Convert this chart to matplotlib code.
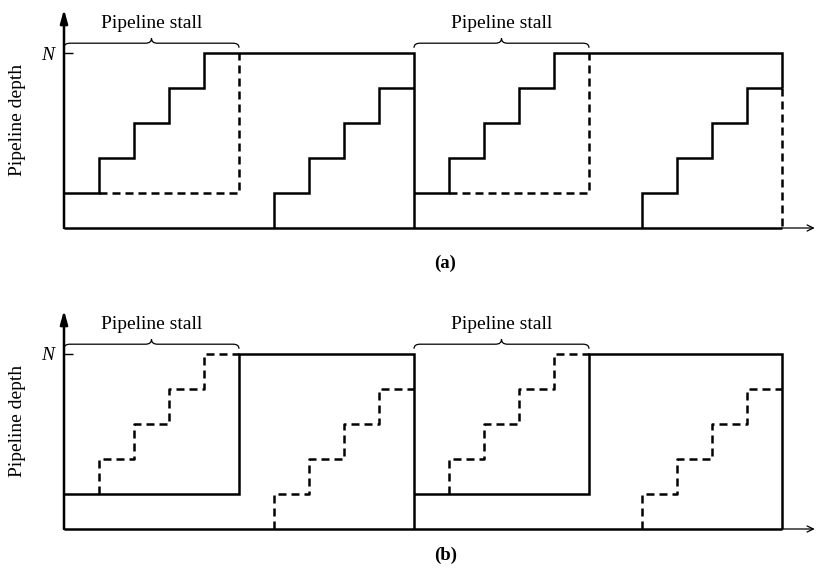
import matplotlib.pyplot as plt
from matplotlib.path import Path
from matplotlib.patches import PathPatch

plt.rcParams['font.family'] = ['Liberation Serif', 'DejaVu Serif']

N_LEVEL = 5
T_END = 20.5
T_ARROW = 21.45
Y_ARROW = 6.25

# panel (a): pipeline fills step by step, then is flushed (dashed)
a_solid = [
    ([0, 1, 2, 3, 4, 10], [1, 2, 3, 4, 5, 0]),
    ([6, 6, 7, 8, 9, 10], [0, 1, 2, 3, 4, 4]),
    ([10, 11, 12, 13, 14, T_END], [1, 2, 3, 4, 5, 4]),
    ([16.5, 16.5, 17.5, 18.5, 19.5, T_END], [0, 1, 2, 3, 4, 4]),
]
a_dashed = [
    ([1, 5], [1, 5]),
    ([11, 15], [1, 5]),
    ([T_END, T_END], [4, 0]),
]

# panel (b)
b_solid = [
    ([0, 5, 10], [1, 5, 0]),
    ([10, 15, T_END], [1, 5, 0]),
]
b_dashed = [
    ([1, 1, 2, 3, 4, 5], [1, 2, 3, 4, 5, 5]),
    ([6, 6, 7, 8, 9, 10], [0, 1, 2, 3, 4, 4]),
    ([11, 11, 12, 13, 14, 15], [1, 2, 3, 4, 5, 5]),
    ([16.5, 16.5, 17.5, 18.5, 19.5, T_END], [0, 1, 2, 3, 4, 4]),
]

stalls = [(0, 5), (10, 15)]

# layout in pixels (816 x 573 figure)
W, H = 816, 573
PX = 35.0
X0 = 64


def make_axes(fig, top_px, bot_px, base_px):
    ax = fig.add_axes([0, 1 - bot_px / H, 1, (bot_px - top_px) / H])
    ax.set_xlim(-X0 / PX, (W - X0) / PX)
    ax.set_ylim((base_px - bot_px) / PX, (base_px - top_px) / PX)
    for s in ax.spines.values():
        s.set_visible(False)
    ax.spines['left'].set_position(('data', 0))
    ax.set_xticks([])
    ax.set_yticks([N_LEVEL])
    ax.set_yticklabels(['N'])
    ax.tick_params(axis='y', direction='in', length=6.5, width=1.0, pad=7,
                   labelsize=14)
    for lab in ax.get_yticklabels():
        lab.set_fontstyle('italic')
    return ax


def brace(ax, t0, t1, y, h=0.13, tip=0.14, r=0.17):
    tm = (t0 + t1) / 2
    verts = [(t0, y - h), (t0, y), (t0 + r, y), (tm - r, y), (tm, y),
             (tm, y + tip), (tm, y), (tm + r, y), (t1 - r, y), (t1, y),
             (t1, y - h)]
    codes = [Path.MOVETO, Path.CURVE3, Path.CURVE3, Path.LINETO,
             Path.CURVE3, Path.CURVE3, Path.CURVE3, Path.CURVE3,
             Path.LINETO, Path.CURVE3, Path.CURVE3]
    ax.add_patch(PathPatch(Path(verts, codes), fc='none', ec='k', lw=0.9))
    ax.text(tm, 5.72, 'Pipeline stall', ha='center', va='baseline', fontsize=14)


def draw_panel(ax, solid, dashed, tag, tag_y):
    line = dict(color='k', lw=1.8, solid_joinstyle='miter',
                solid_capstyle='butt', dash_capstyle='butt')
    # axes
    ax.plot([0, T_END], [0, 0], **line)
    ax.annotate('', xy=(T_ARROW, 0), xytext=(T_END, 0),
                arrowprops=dict(arrowstyle='->,head_length=0.45,head_width=0.22',
                                lw=0.9, color='k', shrinkA=0, shrinkB=0))
    ax.annotate('', xy=(0, Y_ARROW), xytext=(0, 0),
                arrowprops=dict(arrowstyle='-|>,head_length=0.8,head_width=0.22',
                                lw=1.8, color='k', shrinkA=0, shrinkB=0,
                                mutation_scale=10))
    for t, d in solid:
        ax.step(t, d, where='post', **line)
    for t, d in dashed:
        ax.step(t, d, where='post', linestyle=(0, (3.2, 2.0)), **line)
    for t0, t1 in stalls:
        brace(ax, t0, t1, 5.28)
    ax.text(-1.34, 3.1, 'Pipeline depth', rotation=90, ha='center',
            va='center', fontsize=14)
    ax.text(10.9, tag_y, tag, ha='center', va='center', fontsize=13.5,
            fontweight='bold')


fig = plt.figure(figsize=(W / 100, H / 100), dpi=100)
ax_a = make_axes(fig, 0, 283, 228)
ax_b = make_axes(fig, 283, 573, 529)
draw_panel(ax_a, a_solid, a_dashed, '(a)', -1.0)
draw_panel(ax_b, b_solid, b_dashed, '(b)', -0.74)

fig.savefig('out.png', dpi=100)
